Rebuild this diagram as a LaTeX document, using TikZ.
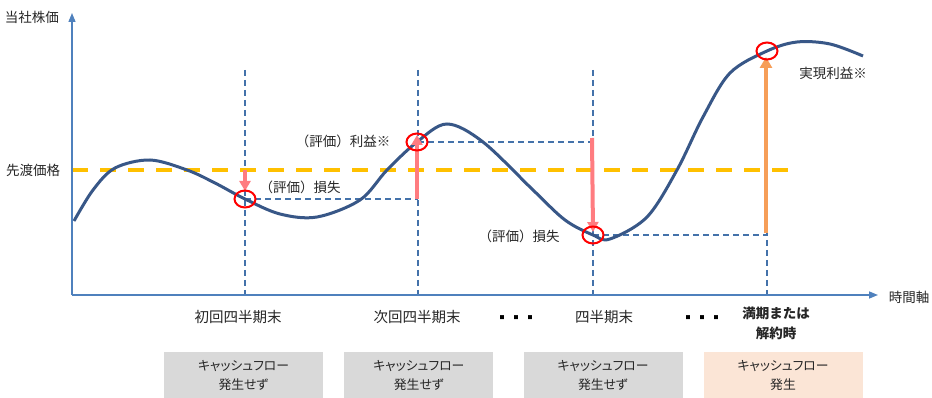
\documentclass[tikz,border=0pt]{standalone}
\usepackage{fontspec}
\setmainfont{Noto Sans CJK JP}
\newfontfamily\jpp[RawFeature=+palt]{Noto Sans CJK JP}
\usetikzlibrary{arrows.meta,shapes.geometric}
\definecolor{axisblue}{RGB}{79,129,189}
\definecolor{curveblue}{RGB}{56,87,135}
\definecolor{guideblue}{RGB}{68,114,170}
\definecolor{fwdyellow}{RGB}{255,192,0}
\definecolor{pinkarrow}{RGB}{255,124,128}
\definecolor{orangearrow}{RGB}{246,158,88}
\definecolor{boxgray}{RGB}{217,217,217}
\definecolor{boxpeach}{RGB}{251,229,214}
\definecolor{txt}{RGB}{38,38,38}
\tikzset{
  lbl/.style={font=\fontsize{13.5}{15}\selectfont, text=txt, inner sep=0pt},
  qlbl/.style={font=\fontsize{14.5}{16}\selectfont, text=txt, inner sep=0pt},
  dotslbl/.style={font=\fontsize{5}{6}\selectfont, text=black, inner sep=0pt},
  axisline/.style={draw=axisblue, line width=1.4pt, -{Triangle[length=9pt,width=7pt]}},
  guide/.style={draw=guideblue, line width=1.1pt, dash pattern=on 6pt off 4pt},
  fwdline/.style={draw=fwdyellow, line width=4pt, dash pattern=on 16pt off 12pt},
  pricecurve/.style={draw=curveblue, line width=3pt},
  redcirc/.style={ellipse, draw=red, line width=2pt, minimum width=21pt, minimum height=17pt, inner sep=0pt},
  losspink/.style={draw=pinkarrow, line width=4pt, -{Triangle[length=10pt,width=11pt]}},
  gainorange/.style={draw=orangearrow, line width=4.5pt, -{Triangle[length=11pt,width=12pt]}},
  cfbox/.style={rectangle, fill=boxgray, minimum width=159pt, minimum height=46pt, inner sep=0pt, align=center, font=\jpp\fontsize{12.8}{19}\selectfont, text=txt},
}
\begin{document}
\begin{tikzpicture}[x=1pt,y=-1pt]
\useasboundingbox (0,0) rectangle (932,398);
\fill[white] (0,0) rectangle (932,398);

% guides (vertical)
\coordinate (o) at (72,295);
\coordinate (ytop) at (72,13);
\coordinate (xend) at (878,295);
\coordinate (v1t) at (245,70); \coordinate (v1b) at (245,295);
\coordinate (v2t) at (418,70); \coordinate (v2b) at (418,295);
\coordinate (v3t) at (593,70); \coordinate (v3b) at (593,295);
\coordinate (v4t) at (767,70); \coordinate (v4b) at (767,295);
\draw[guide] (v1t) -- (v1b);
\draw[guide] (v2t) -- (v2b);
\draw[guide] (v3t) -- (v3b);
\draw[guide] (v4t) -- (v4b);

% horizontal guides
\coordinate (h1a) at (245,199); \coordinate (h1b) at (418,199);
\coordinate (h2a) at (418,142); \coordinate (h2b) at (593,142);
\coordinate (h3a) at (593,235); \coordinate (h3b) at (767,235);
\draw[guide] (h1a) -- (h1b);
\draw[guide] (h2a) -- (h2b);
\draw[guide] (h3a) -- (h3b);

% forward price line
\coordinate (f1) at (72,170); \coordinate (f2) at (790,170);
\draw[fwdline] (f1) -- (f2);

% price curve
\draw[pricecurve] plot[smooth, tension=0.55] coordinates {
 (74,221) (93,190) (115,168) (150,160) (187,170) (215,183) (245,199)
 (280,214) (317,217) (360,200) (387,170) (417,142) (447,124) (483,142)
 (533,190) (565,220) (593,235) (610,239) (647,217) (677,170) (703,117)
 (730,73) (767,51) (797,42) (830,44) (863,56)};

% axes
\draw[axisline] (o) -- (ytop);
\draw[axisline] (o) -- (xend);

% arrows
\coordinate (a1s) at (245,170); \coordinate (a1e) at (245,191);
\coordinate (a2s) at (417,199); \coordinate (a2e) at (417,135);
\coordinate (a3s) at (592,138); \coordinate (a3e) at (593,232);
\coordinate (a4s) at (766,233); \coordinate (a4e) at (766,57);
\draw[losspink] (a1s) -- (a1e);
\draw[losspink] (a2s) -- (a2e);
\draw[losspink] (a3s) -- (a3e);
\draw[gainorange] (a4s) -- (a4e);

% red circles
\node[redcirc] (c1) at (245,199) {};
\node[redcirc] (c2) at (417,142) {};
\node[redcirc] (c3) at (593,235) {};
\node[redcirc] (c4) at (767,51) {};

% labels
\node[lbl] (ylab) at (32,17) {当社株価};
\node[lbl] (fwdlab) at (33,170) {先渡価格};
\node[lbl] (xlab) at (909,297) {時間軸};
\node[lbl] (l1) at (300,187) {（評価）損失};
\node[lbl] (l2) at (343,141) {（評価）利益※};
\node[lbl] (l3) at (519,236) {（評価）損失};
\node[lbl] (l4) at (833,73) {実現利益※};

\node[qlbl] (q1) at (238,317) {初回四半期末};
\node[qlbl] (q2) at (417,317) {次回四半期末};
\node[dotslbl] (d1) at (516,318) {■\hspace{9pt}■\hspace{9pt}■};
\node[qlbl] (q3) at (604,317) {四半期末};
\node[dotslbl] (d2) at (702,318) {■\hspace{9pt}■\hspace{9pt}■};
\node[lbl, font=\bfseries\fontsize{13.5}{20}\selectfont, align=center] (q4) at (776,323) {満期または\\解約時};

% cash flow boxes
\node[cfbox] (b1) at (243.5,375) {キャッシュフロー\\発生せず};
\node[cfbox, minimum width=149pt] (b2) at (418.8,375) {キャッシュフロー\\発生せず};
\node[cfbox] (b3) at (603,375) {キャッシュフロー\\発生せず};
\node[cfbox, fill=boxpeach] (b4) at (783,375) {キャッシュフロー\\発生};
\end{tikzpicture}
\end{document}
